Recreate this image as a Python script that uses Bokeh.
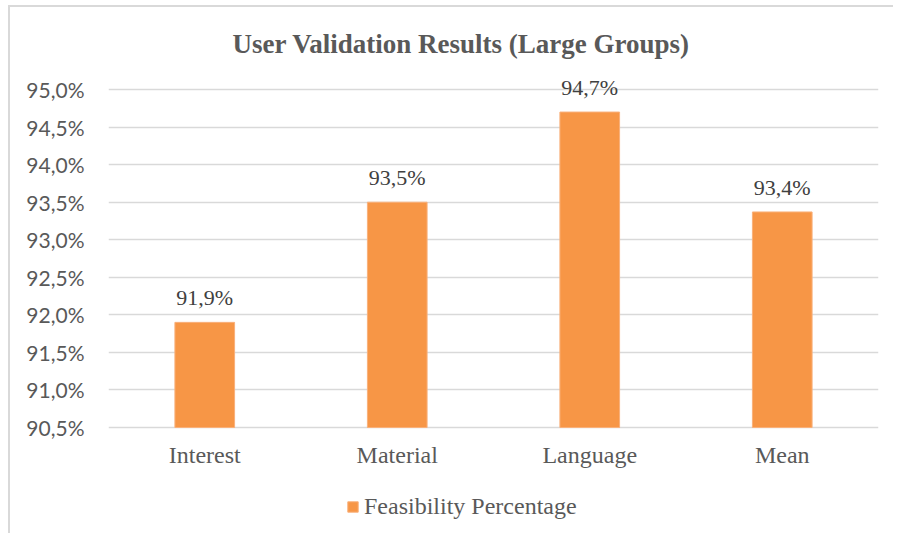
from bokeh.plotting import figure
from bokeh.models import ColumnDataSource, FixedTicker, CustomJSTickFormatter, LabelSet, Legend, LegendItem
from bokeh.embed import file_html
from bokeh.resources import INLINE

categories = ["Interest", "Material", "Language", "Mean"]
values = [91.9, 93.5, 94.7, 93.37]
y_ticks = [90.5, 91.0, 91.5, 92.0, 92.5, 93.0, 93.5, 94.0, 94.5, 95.0]
series_name = "Feasibility Percentage"
title_text = "User Validation Results (Large Groups)"
axis_base = 90.5

labels = [f"{v:.1f}%".replace(".", ",") for v in values]
src = ColumnDataSource(dict(cat=categories, val=values, lab=labels,
                            base=[axis_base] * len(categories)))

p = figure(x_range=categories, y_range=(89.129, 95.2), width=885, height=528,
           output_backend="svg", toolbar_location=None,
           min_border_left=98, min_border_right=17, min_border_bottom=5, min_border_top=67,
           styles={"border-left": "2px solid #d9d9d9", "border-top": "2px solid #d9d9d9",
                   "margin-left": "8px", "margin-top": "5px"})

p.title.text = title_text
p.title.text_font = "Liberation Serif"
p.title.text_font_style = "bold"
p.title.text_font_size = "27px"
p.title.text_color = "#595959"
p.title.align = "left"
p.title.offset = 124
p.title.standoff = 31

r = p.vbar(x="cat", top="val", bottom=axis_base, width=0.31, source=src,
           fill_color="#F79646", line_color="#F9B07A", line_width=1)

p.outline_line_color = None
p.xgrid.grid_line_color = None
p.ygrid.grid_line_color = "#d9d9d9"
p.ygrid.grid_line_width = 1.5
p.yaxis.ticker = FixedTicker(ticks=y_ticks)
p.yaxis.formatter = CustomJSTickFormatter(code="return tick.toFixed(1).replace('.', ',') + '%';")
p.yaxis.axis_line_color = None
p.yaxis.major_tick_line_color = None
p.yaxis.minor_tick_line_color = None
p.yaxis.major_label_text_font = "Lato"
p.yaxis.major_label_text_font_size = "21px"
p.yaxis.major_label_text_color = "#595959"
p.yaxis.major_label_standoff = 18

p.xaxis.visible = False

cat_lbl = LabelSet(x="cat", y="base", text="cat", source=src, y_offset=-35,
                   text_align="center", text_baseline="alphabetic",
                   text_font="Liberation Serif", text_font_size="24px", text_color="#595959")
p.add_layout(cat_lbl)

lbl = LabelSet(x="cat", y="val", text="lab", source=src, y_offset=17,
               text_align="center", text_baseline="alphabetic",
               text_font="Lato", text_font_size="22px", text_color="#404040")
p.add_layout(lbl)

legend = Legend(items=[LegendItem(label=series_name, renderers=[r])],
                location=(238, 10), orientation="horizontal",
                glyph_width=13, glyph_height=13, padding=0, margin=0, spacing=0,
                label_standoff=5, border_line_color=None, background_fill_alpha=0,
                label_text_font="Liberation Serif", label_text_font_size="24px",
                label_text_color="#595959")
p.add_layout(legend)

open("out.html", "w").write(file_html(p, INLINE))
